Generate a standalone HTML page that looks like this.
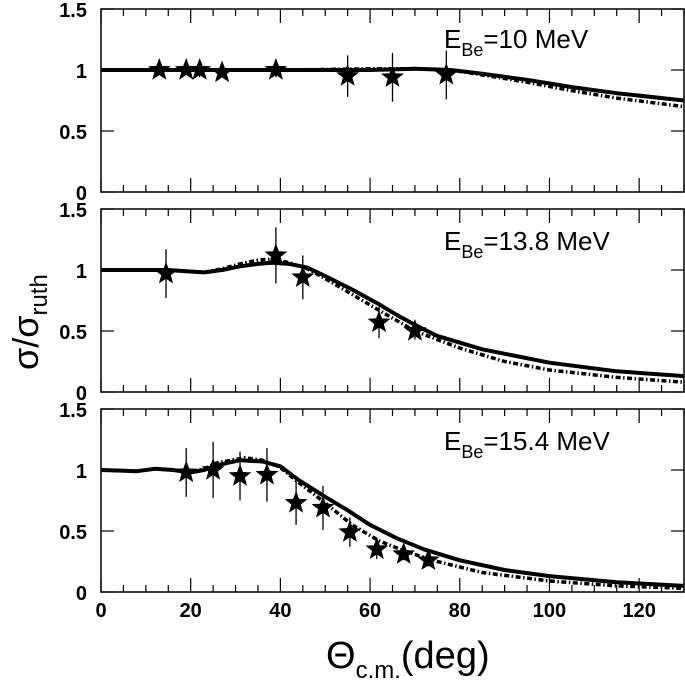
<!DOCTYPE html>
<html><head><meta charset="utf-8"><style>
html,body{margin:0;padding:0;background:#fff;}
svg{display:block;font-family:"Liberation Sans",Arial,sans-serif;}
</style></head><body>
<svg id="chart" width="685" height="680" viewBox="0 0 685 680"></svg>
<script>
const xTicks = [0,20,40,60,80,100,120];
const yTicks = [0,0.5,1,1.5];
const yTickLabels = ["0","0.5","1","1.5"];
const panelLabels = ["10 MeV","13.8 MeV","15.4 MeV"];

// panel 1 (10 MeV)
const p1StarX = [13,19,22,27,39,55,65,77];
const p1StarY = [1.0,1.0,1.0,0.98,1.0,0.95,0.94,0.96];
const p1StarErr = [0.02,0.02,0.06,0.03,0.06,0.17,0.2,0.2];
const p1SolidX = [0,20,40,60,70,78,85,95,105,115,130];
const p1SolidY = [1,1,1,1.0,1.01,1.0,0.97,0.92,0.86,0.81,0.75];
const p1DashX = [0,20,40,60,70,78,85,95,105,115,130];
const p1DashY = [1,1,1,1.01,1.01,1.0,0.96,0.9,0.83,0.77,0.70];

// panel 2 (13.8 MeV)
const p2StarX = [14.5,39,45,62,70];
const p2StarY = [0.97,1.12,0.94,0.57,0.5];
const p2StarErr = [0.2,0.23,0.18,0.13,0.07];
const p2SolidX = [0,10,15,19,23,27,31,35,38,42,46,50,56,62,66,70,75,85,100,115,130];
const p2SolidY = [1,1,1.0,0.99,0.98,1.0,1.03,1.05,1.06,1.05,1.02,0.95,0.84,0.72,0.63,0.55,0.46,0.35,0.24,0.17,0.13];
const p2DashX = [0,10,15,19,23,27,31,35,38,42,46,50,56,62,70,80,90,100,115,130];
const p2DashY = [1,1,1.0,0.99,0.98,1.01,1.05,1.08,1.09,1.06,1.01,0.93,0.8,0.67,0.5,0.36,0.25,0.18,0.12,0.08];

// panel 3 (15.4 MeV)
const p3StarX = [19,25,31,37,43.5,49.5,55.5,61.5,67.5,73];
const p3StarY = [0.98,1.0,0.95,0.96,0.73,0.69,0.49,0.35,0.31,0.26];
const p3StarErr = [0.2,0.23,0.2,0.22,0.18,0.18,0.12,0.08,0.05,0.05];
const p3SolidX = [0,8,12,16,20,23,26,31,36,40,44,50,55,60,66,72,80,90,100,115,130];
const p3SolidY = [1,0.99,1.01,1.0,0.98,1.0,1.04,1.08,1.07,1.03,0.92,0.78,0.67,0.55,0.44,0.35,0.26,0.18,0.13,0.08,0.05];
const p3DashX = [0,8,12,16,20,23,26,32,36,40,44,50,56,62,68,75,85,100,115,130];
const p3DashY = [1,0.99,1.01,1.0,0.98,1.01,1.06,1.1,1.08,1.02,0.9,0.73,0.55,0.42,0.33,0.25,0.16,0.09,0.05,0.03];

const panels = [
 {top:9,bot:192,sx:p1StarX,sy:p1StarY,se:p1StarErr,lx:p1SolidX,ly:p1SolidY,dx:p1DashX,dy:p1DashY,lab:panelLabels[0],ly0:48},
 {top:209,bot:392,sx:p2StarX,sy:p2StarY,se:p2StarErr,lx:p2SolidX,ly:p2SolidY,dx:p2DashX,dy:p2DashY,lab:panelLabels[1],ly0:250},
 {top:409,bot:592,sx:p3StarX,sy:p3StarY,se:p3StarErr,lx:p3SolidX,ly:p3SolidY,dx:p3DashX,dy:p3DashY,lab:panelLabels[2],ly0:450}
];
const X0=101, X1=684, XMAX=130;
function xs(v){return X0+(X1-X0)*v/XMAX;}
const svg=document.getElementById('chart');
const NS='http://www.w3.org/2000/svg';
function mk(t,a,p){const e=document.createElementNS(NS,t);for(const k in a)e.setAttribute(k,a[k]);(p||svg).appendChild(e);return e;}
function starPath(cx,cy,R){const r=R*0.42;let d='';for(let i=0;i<10;i++){const a=-Math.PI/2+i*Math.PI/5;const rr=i%2?r:R;d+=(i?'L':'M')+(cx+rr*Math.cos(a)).toFixed(2)+' '+(cy+rr*Math.sin(a)).toFixed(2);}return d+'Z';}

panels.forEach((p,pi)=>{
 const ys=v=>p.bot-(p.bot-p.top)*v/1.5;
 const g=mk('g',{});
 
 
 const fr=mk('rect',{x:X0,y:p.top,width:X1-X0,height:p.bot-p.top,fill:'none',stroke:'#000','stroke-width':1.5},g);
 
 
 for(let v=0;v<=130;v+=5){
  const L=(v%20===0)?14:7;const x=xs(v);
  mk('line',{x1:x,y1:p.bot,x2:x,y2:p.bot-L,stroke:'#000','stroke-width':1.2},g);
  mk('line',{x1:x,y1:p.top,x2:x,y2:p.top+L,stroke:'#000','stroke-width':1.2},g);
 }
 yTicks.forEach((v,i)=>{
  const y=ys(v);
  mk('line',{x1:X0,y1:y,x2:X0+13,y2:y,stroke:'#000','stroke-width':1.2},g);
  mk('line',{x1:X1,y1:y,x2:X1-13,y2:y,stroke:'#000','stroke-width':1.2},g);
  const t=mk('text',{x:87,y:y+8,'text-anchor':'end','font-size':20,'font-weight':'bold'},g);
  t.textContent=yTickLabels[i];
  
  
 });
 const pathOf=(X,Y)=>X.map((v,i)=>(i?'L':'M')+xs(v).toFixed(1)+' '+ys(Y[i]).toFixed(1)).join('');
 const dl=mk('path',{d:pathOf(p.dx,p.dy),fill:'none',stroke:'#000','stroke-width':3.5,'stroke-dasharray':'5,2.5,1.5,2.5','stroke-linejoin':'round'},g);
 
 
 const sl=mk('path',{d:pathOf(p.lx,p.ly),fill:'none',stroke:'#000','stroke-width':4,'stroke-linejoin':'round'},g);
 
 
 p.sx.forEach((v,i)=>{
  const x=xs(v),y=ys(p.sy[i]);
  mk('line',{x1:x,y1:ys(p.sy[i]+p.se[i]),x2:x,y2:ys(p.sy[i]-p.se[i]),stroke:'#000','stroke-width':1.3},g);
  const s=mk('path',{d:starPath(x,y,12),fill:'#000'},g);
  
  
 });
 const t=mk('text',{x:444,y:p.ly0,'font-size':26},g);
 t.innerHTML='E<tspan font-size="18" dy="8">Be</tspan><tspan dy="-8">='+p.lab+'</tspan>';
 
 
});
xTicks.forEach(v=>{
 const t=mk('text',{x:xs(v),y:617,'text-anchor':'middle','font-size':20,'font-weight':'bold'});
 t.textContent=v;
 
 
});
const xt=mk('text',{x:326,y:668,'font-size':38});
xt.innerHTML='Θ<tspan font-size="24" dy="10">c.m.</tspan><tspan dy="-10">(deg)</tspan>';


const yt=mk('text',{x:0,y:0,'font-size':36,transform:'translate(38,370) rotate(-90)'});
yt.innerHTML='σ/σ<tspan font-size="24" dy="9">ruth</tspan>';


</script>
</body></html>
